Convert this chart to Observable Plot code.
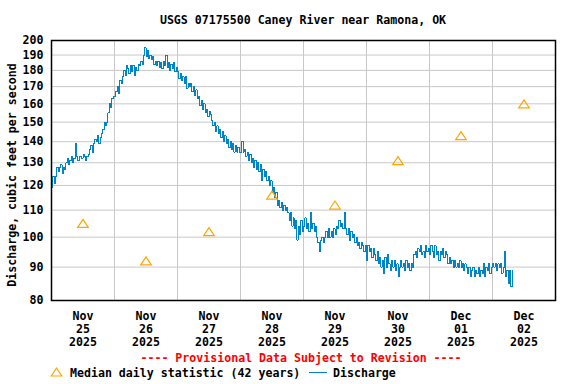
<!DOCTYPE html>
<html><head><meta charset="utf-8">
<script src="https://cdn.jsdelivr.net/npm/d3@7"></script>
<script src="https://cdn.jsdelivr.net/npm/@observablehq/plot@0.6"></script>
<style>html,body{margin:0;padding:0;background:#fff;}</style>
</head><body><div id="chart"></div>
<script>
const titleText = "USGS 07175500 Caney River near Ramona, OK";
const yLabel = "Discharge, cubic feet per second";
const provisionalText = "---- Provisional Data Subject to Revision ----";
const medianLegend = "Median daily statistic (42 years)";
const dischargeLegend = "Discharge";

// 30-minute discharge readings (cfs), starting Nov 25 2025 00:00
const startUTC = Date.UTC(2025, 10, 25);
const stepMinutes = 30;
const nov25 = [119,124,121,124,128,126,128,129,125,128,127,130,132,129,131,133,130,132,139,133,131,133,133,132,134,133,131,133,134,136,138,135,139,141,140,143,139,142,144,146,150,148,150,155,160,158,163,164];
const nov26 = [164,167,170,166,174,172,176,180,177,183,181,178,183,179,183,177,182,180,184,183,186,184,190,195,189,193,188,190,187,189,184,186,183,186,182,185,181,186,183,190,182,185,180,184,181,185,179,182];
const nov27 = [179,175,178,174,176,172,176,169,172,170,172,167,170,165,168,163,164,159,162,157,160,155,157,153,156,154,151,148,150,145,148,144,146,142,145,140,143,139,141,137,140,136,139,135,138,135,137,135];
const nov28 = [135,140,135,136,133,135,131,134,130,132,128,131,127,130,126,129,122,127,124,126,122,124,120,122,117,119,115,117,112,114,111,113,110,112,110,111,109,106,109,104,107,103,106,99,104,101,106,102];
const nov29 = [104,107,103,105,102,109,103,105,102,104,100,98,95,99,100,98,100,102,100,103,100,102,100,103,101,104,103,106,104,105,103,109,103,101,103,99,102,100,101,98,100,97,98,96,98,97,95,97];
const nov30 = [92,97,95,96,93,96,94,92,95,91,93,90,92,88,93,90,94,91,89,92,90,92,89,91,87,90,92,90,91,89,92,90,91,89,91,90,94,95,93,96,95,97,94,95,93,97,95,96];
const dec01 = [94,97,95,93,97,94,95,92,95,94,96,93,95,94,91,93,91,92,90,92,90,91,90,92,90,91,89,91,90,88,90,87,89,90,87,89,88,90,87,89,88,91,87,90,89,91,88,90];
const dec02 = [91,90,91,89,91,90,91,88,90,95,87,89,85,89,84,89];

const medianDays = ["2025-11-25","2025-11-26","2025-11-27","2025-11-28","2025-11-29","2025-11-30","2025-12-01","2025-12-02"];
const medianValues = [105, 92, 102, 116, 112, 131, 143, 160];
const dayStarts = ["2025-11-25","2025-11-26","2025-11-27","2025-11-28","2025-11-29","2025-11-30","2025-12-01","2025-12-02","2025-12-03"];
const xTickLabels = ["Nov\n25\n2025","Nov\n26\n2025","Nov\n27\n2025","Nov\n28\n2025","Nov\n29\n2025","Nov\n30\n2025","Dec\n01\n2025","Dec\n02\n2025"];
const yTicks = [80,90,100,110,120,130,140,150,160,170,180,190,200];

const dischargeValues = [...nov25, ...nov26, ...nov27, ...nov28, ...nov29, ...nov30, ...dec01, ...dec02];
const discharge = dischargeValues.map((v, i) => ({time: new Date(startUTC + i * stepMinutes * 60000), value: v}));
const medians = medianDays.map((d, i) => ({time: new Date(d + "T12:00:00Z"), value: medianValues[i]}));
const gridDates = dayStarts.map(d => new Date(d + "T00:00:00Z"));
const labelDates = medianDays.map(d => new Date(d + "T12:00:00Z"));

const FONT = "DejaVu Sans Mono";
const FS = 11.6;
const blue = "#0084c8";
const orange = "#ffa500";

const triangle = {draw(ctx) { ctx.moveTo(0, -4); ctx.lineTo(5.3, 4); ctx.lineTo(-5.3, 4); ctx.closePath(); }};

const plot = Plot.plot({
  width: 576, height: 384,
  marginTop: 40, marginBottom: 84, marginLeft: 51, marginRight: 21,
  style: {fontFamily: FONT, fontSize: FS + "px", fontWeight: "bold", background: "#fff", color: "#000"},
  x: {type: "utc", domain: [gridDates[0], gridDates[gridDates.length - 1]], axis: null},
  y: {type: "log", domain: [80, 200], axis: null},
  marks: [
    Plot.gridX(gridDates, {stroke: "#c8c8c8", strokeOpacity: 1, strokeWidth: 1}),
    Plot.gridY(yTicks, {stroke: "#c8c8c8", strokeOpacity: 1, strokeWidth: 1}),
    Plot.text(yTicks, {y: d => d, text: d => String(d), frameAnchor: "left", textAnchor: "end", dx: -8, fill: "#000"}),
    Plot.text(labelDates, {x: d => d, text: (d, i) => xTickLabels[i], frameAnchor: "bottom", lineAnchor: "top", dy: 10, lineHeight: 1.12, fill: "#000"}),
    Plot.line(discharge, {x: "time", y: "value", curve: "step-after", stroke: blue, strokeWidth: 1, shapeRendering: "crispEdges"}),
    Plot.dot(medians, {x: "time", y: "value", symbol: triangle, stroke: orange, fill: "none", strokeWidth: 1.2}),
    Plot.frame({stroke: "#000", strokeWidth: 1.5})
  ]
});
document.getElementById("chart").appendChild(plot);

const svg = d3.select(plot);
const g = svg.append("g").attr("font-family", FONT).attr("font-weight", "bold").attr("font-size", FS).attr("text-anchor", "start");
g.append("text").attr("x", 303).attr("y", 24).attr("text-anchor", "middle").attr("fill", "#000").text(titleText);
g.append("text").attr("transform", "translate(15.5,175) rotate(-90)").attr("text-anchor", "middle").attr("fill", "#000").text(yLabel);
g.append("text").attr("x", 301).attr("y", 362).attr("text-anchor", "middle").attr("fill", "#ff0000").text(provisionalText);
g.append("path").attr("d", "M56.5,368L61.8,376L51.2,376Z").attr("fill", "none").attr("stroke", orange).attr("stroke-width", 1.2);
g.append("text").attr("x", 70).attr("y", 376.5).attr("text-anchor", "start").attr("fill", "#000").text(medianLegend);
g.append("line").attr("x1", 309).attr("x2", 327).attr("y1", 372.5).attr("y2", 372.5).attr("stroke", blue).attr("stroke-width", 1);
g.append("text").attr("x", 333).attr("y", 376.5).attr("text-anchor", "start").attr("fill", "#000").text(dischargeLegend);
</script>
</body></html>
